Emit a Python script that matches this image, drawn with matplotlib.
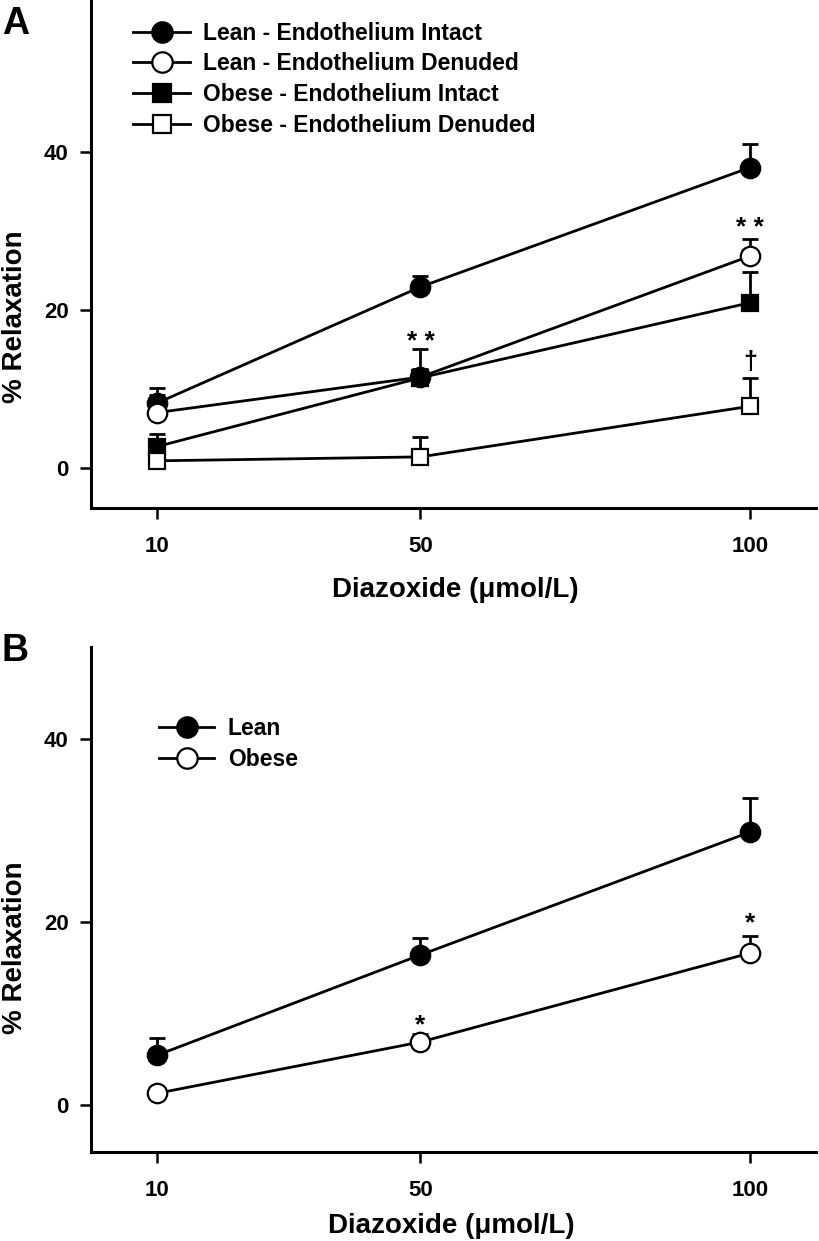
import numpy as np
import matplotlib
matplotlib.use("Agg")
import matplotlib.pyplot as plt

plt.rcParams["font.family"] = ["Liberation Sans", "DejaVu Sans"]
plt.rcParams["font.weight"] = "bold"

# Diazoxide concentrations (umol/L)
conc = [10, 50, 100]

# Panel A: % relaxation (mean, upper SEM)
lean_intact = [8.2, 22.9, 38.0]
lean_intact_err = [1.9, 1.4, 3.0]
lean_denuded = [7.0, 11.5, 26.8]
lean_denuded_err = [2.2, 1.0, 2.2]
obese_intact = [2.7, 11.4, 20.9]
obese_intact_err = [1.6, 3.7, 3.9]
obese_denuded = [0.9, 1.4, 7.8]
obese_denuded_err = [0.8, 2.5, 3.6]

# Panel B
lean_b = [5.45, 16.4, 29.8]
lean_b_err = [1.85, 1.8, 3.75]
obese_b = [1.3, 6.9, 16.6]
obese_b_err = [0.5, 0.9, 1.9]

yticks = [0, 20, 40]
xlabel = "Diazoxide (\u03bcmol/L)"
ylabel = "% Relaxation"

LW = 2.0
MEW = 1.6


def draw_series(ax, y, err, marker, filled, label, z):
    ax.errorbar(conc, y, yerr=[np.zeros(len(err)), err], fmt="none",
                ecolor="black", elinewidth=LW, capsize=6, capthick=LW,
                zorder=z)
    ms = 14 if marker == "o" else 12
    ax.plot(conc, y, color="black", lw=LW, marker=marker, markersize=ms,
            markeredgewidth=MEW, markeredgecolor="black",
            markerfacecolor="black" if filled else "white",
            label=label, zorder=z + 0.5)


def style_axes(ax, ylim, ylab_y, xlab_x, xlab_y):
    ax.set_xlim(0, 110)
    ax.set_ylim(*ylim)
    ax.set_xticks(conc)
    ax.set_yticks(yticks)
    for s in ["top", "right"]:
        ax.spines[s].set_visible(False)
    for s in ["left", "bottom"]:
        ax.spines[s].set_linewidth(2.2)
    ax.tick_params(axis="both", direction="out", length=8, width=1.8,
                   labelsize=16)
    ax.tick_params(axis="x", pad=12)
    ax.tick_params(axis="y", pad=8)
    ax.set_xlabel(xlabel, fontsize=20, fontweight="bold", va="center")
    ax.set_ylabel(ylabel, fontsize=20, fontweight="bold", va="center",
                  ha="center")
    ax.yaxis.set_label_coords(-0.105, ylab_y)
    ax.xaxis.set_label_coords(xlab_x, xlab_y)


fig = plt.figure(figsize=(8.19, 12.41), dpi=100)

# ---- Panel A ----
axA = fig.add_axes([0.1111, 0.5907, 0.885, 0.4093])
draw_series(axA, lean_intact, lean_intact_err, "o", True,
            "Lean - Endothelium Intact", 3)
draw_series(axA, lean_denuded, lean_denuded_err, "o", False,
            "Lean - Endothelium Denuded", 4)
draw_series(axA, obese_intact, obese_intact_err, "s", True,
            "Obese - Endothelium Intact", 5)
draw_series(axA, obese_denuded, obese_denuded_err, "s", False,
            "Obese - Endothelium Denuded", 6)
style_axes(axA, (-5.06, 59.2), 0.376, 0.503, -0.162)
axA.legend(loc="upper left", bbox_to_anchor=(0.058, 0.957), frameon=False,
           fontsize=16.5, handlelength=2.49, handletextpad=0.57,
           labelspacing=0.33, borderpad=0, borderaxespad=0, markerscale=1.05)
axA.text(50, 15.0, "* *", ha="center", va="baseline", fontsize=19)
axA.text(100, 29.5, "* *", ha="center", va="baseline", fontsize=19)
axA.text(100, 12.5, "\u2020", ha="center", va="baseline", fontsize=18)

# ---- Panel B ----
axB = fig.add_axes([0.1111, 0.0717, 0.885, 0.407])
draw_series(axB, lean_b, lean_b_err, "o", True, "Lean", 3)
draw_series(axB, obese_b, obese_b_err, "o", False, "Obese", 4)
style_axes(axB, (-5.1, 50), 0.404, 0.497, -0.146)
axB.legend(loc="upper left", bbox_to_anchor=(0.094, 0.862), frameon=False,
           fontsize=16.5, handlelength=2.4, handletextpad=0.6,
           labelspacing=0.35, borderpad=0, borderaxespad=0, markerscale=1.05)
axB.text(50, 8.0, "*", ha="center", va="baseline", fontsize=19)
axB.text(100, 19.1, "*", ha="center", va="baseline", fontsize=19)

fig.text(0.002, 0.995, "A", fontsize=27, fontweight="bold", ha="left",
         va="top")
fig.text(0.002, 0.49, "B", fontsize=27, fontweight="bold", ha="left",
         va="top")

fig.savefig("out.png", dpi=100)
